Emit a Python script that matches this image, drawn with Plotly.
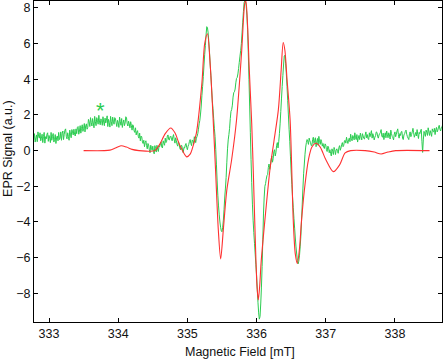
import numpy as np
import plotly.graph_objects as go

# Experimental EPR spectrum (green): samples on a 0.02 mT grid starting at 332.76 mT,
# plus the in-between samples (offset 0.01 mT)
field_start = 332.76
field_step = 0.02
exp_signal = [
    0.95, 0.62, 0.48, 0.88, 1.05, 0.70, 0.55, 0.92, 0.80, 0.42,
    0.66, 1.00, 0.85, 0.45, 0.58, 0.96, 0.62, 0.40, 0.82, 1.02,
    0.70, 0.58, 1.10, 0.92, 1.22, 0.66, 0.80, 1.15, 0.72, 1.05,
    1.20, 0.82, 0.95, 1.35, 1.10, 0.98, 1.45, 1.25, 1.05, 1.50,
    1.30, 1.62, 1.85, 1.38, 1.55, 1.92, 1.40, 1.70, 1.98, 1.45,
    1.68, 1.90, 1.40, 1.55, 1.95, 1.75, 1.32, 1.62, 1.88, 1.48,
    1.80, 1.35, 1.58, 1.88, 1.42, 1.30, 1.72, 1.55, 1.85, 1.38,
    1.50, 1.62, 1.15, 1.38, 1.02, 0.88, 1.12, 0.70, 0.55, 0.78,
    0.40, 0.22, 0.55, 0.10, 0.32, -0.12, 0.18, 0.25, -0.18, 0.12,
    0.30, -0.05, 0.22, 0.48, 0.15, 0.40, 0.70, 0.52, 0.88, 0.60,
    0.82, 0.55, 0.90, 0.42, 0.58, 0.25, 0.40, 0.05, 0.28, -0.12,
    0.15, 0.40, 0.05, 0.35, 0.62, 0.28, 0.55, 0.78, 0.45, 0.80,
    1.20, 1.70, 2.50, 3.60, 4.80, 5.90, 6.95, 6.60, 5.50, 4.20,
    2.80, 1.80, 0.80, -0.80, -2.50, -3.60, -4.30, -4.55, -3.90, -2.60,
    -1.50, 0.10, 0.90, 1.80, 2.30, 3.00, 3.30, 3.80, 4.10, 4.60,
    5.30, 6.00, 7.20, 8.30, 8.35, 7.60, 5.50, 2.50, -0.50, -3.00,
    -4.60, -5.80, -7.00, -8.50, -9.45, -8.60, -6.50, -3.50, -2.00, -1.60,
    -1.35, -0.75, -0.85, -0.30, -0.45, 0.05, -0.10, 0.45, 0.50, 1.50,
    2.90, 4.20, 5.30, 4.90, 3.60, 2.00, 0.50, -1.20, -2.60, -3.80,
    -4.90, -5.80, -6.35, -5.90, -4.80, -3.00, -1.30, -0.20, 0.45, 0.50,
    0.70, 0.45, 0.30, 0.75, 0.58, 0.22, 0.68, 0.80, 0.35, 0.50,
    0.40, 0.12, 0.32, -0.05, 0.20, 0.05, -0.30, -0.05, 0.18, -0.22,
    0.10, -0.15, 0.28, 0.15, 0.45, 0.30, 0.58, 0.75, 0.40, 0.70,
    0.92, 0.55, 0.78, 1.00, 0.62, 0.48, 0.85, 0.98, 0.60, 0.82,
    0.65, 1.05, 0.90, 0.62, 0.78, 1.12, 0.95, 0.60, 0.85, 1.02,
    0.70, 0.95, 1.18, 0.75, 0.62, 1.00, 1.10, 0.72, 0.88, 1.15,
    0.80, 0.60, 1.05, 0.92, 1.22, 0.70, 0.85, 1.08, 0.62, 0.95,
    1.15, 0.78, 0.62, 1.05, 0.90, 1.25, 0.75, 1.02, 1.18, 0.68,
    0.95, 1.20, -0.10, 1.08, 0.80, 1.02, 1.28, 0.85, 0.96, 1.22,
    1.05, 0.90, 1.30, 1.15, 1.42, 1.10, 1.35, 1.50,
]
exp_signal_mid = [
    0.58, 0.95, 0.72, 0.50, 0.82, 1.00, 0.68, 0.45, 1.02, 0.78,
    0.92, 0.52, 0.70, 1.02, 0.80, 0.48, 0.90, 0.75, 0.55, 0.62,
    1.05, 0.95, 0.62, 1.15, 0.80, 1.00, 0.58, 0.92, 1.18, 0.88,
    0.90, 1.22, 1.30, 0.92, 1.40, 1.25, 1.08, 1.52, 1.38, 1.20,
    1.75, 1.35, 1.58, 1.80, 1.28, 1.62, 1.85, 1.48, 1.60, 1.78,
    1.42, 1.60, 1.82, 1.70, 1.35, 1.58, 1.92, 1.40, 1.65, 1.85,
    1.55, 1.70, 1.30, 1.62, 1.80, 1.55, 1.40, 1.90, 1.50, 1.65,
    1.28, 1.42, 1.45, 1.10, 1.28, 1.05, 0.80, 0.98, 0.82, 0.48,
    0.58, 0.45, 0.28, 0.40, 0.05, 0.30, 0.02, -0.05, 0.28, -0.08,
    0.08, 0.25, 0.38, 0.20, 0.55, 0.30, 0.45, 0.82, 0.62, 0.78,
    0.65, 0.78, 0.60, 0.72, 0.35, 0.50, 0.15, 0.30, 0.00, 0.18,
    0.32, 0.18, 0.25, 0.52, 0.40, 0.60, 0.38, 0.62, 0.70, 0.95,
    1.50, 2.05, 3.10, 4.15, 5.40, 6.50, 6.90, 6.10, 4.80, 3.50,
    2.35, 1.25, 0.05, -1.70, -3.10, -4.00, -4.50, -4.30, -3.30, -2.10,
    -0.65, 0.60, 1.25, 2.20, 2.55, 3.25, 3.45, 4.05, 4.30, 4.95,
    5.60, 6.60, 7.80, 8.40, 8.10, 6.80, 4.00, 1.00, -1.80, -3.90,
    -5.20, -6.40, -7.80, -9.10, -9.30, -7.70, -5.00, -2.60, -1.85, -1.40,
    -0.95, -1.05, -0.50, -0.65, -0.05, -0.30, 0.30, 0.15, 0.95, 2.20,
    3.60, 4.80, 5.35, 4.30, 2.80, 1.20, -0.35, -1.90, -3.20, -4.35,
    -5.40, -6.15, -6.20, -5.40, -3.90, -2.10, -0.75, 0.20, 0.62, 0.35,
    0.55, 0.28, 0.62, 0.40, 0.72, 0.48, 0.30, 0.55, 0.62, 0.25,
    0.20, 0.38, 0.05, 0.25, -0.12, -0.15, 0.10, -0.22, 0.05, 0.02,
    -0.05, 0.18, 0.02, 0.35, 0.22, 0.55, 0.42, 0.55, 0.62, 0.50,
    0.68, 0.85, 0.60, 0.72, 0.90, 0.70, 0.62, 0.78, 0.95, 0.68,
    0.88, 0.72, 0.68, 1.00, 0.95, 0.70, 0.82, 0.75, 1.05, 0.78,
    0.88, 1.02, 0.82, 0.98, 0.85, 0.72, 0.92, 1.00, 0.65, 0.95,
    0.72, 0.92, 0.78, 1.10, 0.90, 0.95, 1.05, 0.70, 0.88, 1.08,
    0.92, 0.70, 0.95, 0.78, 1.05, 1.00, 0.88, 0.82, 0.90, 1.02,
    1.10, 0.50, 0.60, 0.95, 1.15, 0.85, 1.05, 1.12, 0.80, 1.08,
    1.25, 1.18, 1.05, 1.32, 1.20, 1.28, 1.45, 1.30,
]
grid_field = field_start + field_step * np.arange(len(exp_signal))
mid_field = grid_field + field_step / 2
exp_field = np.column_stack([grid_field, mid_field]).ravel()
exp_all = np.column_stack([exp_signal, exp_signal_mid]).ravel()

# Simulated spectrum (red)
sim_field = [333.50, 333.80, 333.88, 333.96, 334.04, 334.12, 334.20, 334.30, 334.40, 334.50,
             334.53, 334.60, 334.68, 334.76, 334.82, 334.89, 334.99, 335.04, 335.07, 335.13,
             335.21, 335.25, 335.29, 335.33, 335.366, 335.406, 335.447, 335.481, 335.52, 335.57,
             335.64, 335.71, 335.785, 335.83, 335.845, 335.87, 335.895, 335.93, 335.955, 335.98,
             336.005, 336.025, 336.045, 336.065, 336.12, 336.195, 336.25, 336.315, 336.355, 336.385,
             336.41, 336.44, 336.485, 336.53, 336.56, 336.59, 336.62, 336.65, 336.70, 336.75,
             336.80, 336.86, 336.92, 337.00, 337.11, 337.20, 337.28, 337.36, 337.57, 337.70,
             337.80, 337.90, 338.01, 338.50]
sim_signal = [0.0, 0.0, 0.03, 0.15, 0.27, 0.20, 0.07, 0.0, -0.03, -0.02,
              0.0, 0.35, 0.95, 1.27, 1.0, 0.3, -0.35, -0.2, 0.1, 0.98,
              3.8, 6.0, 6.55, 4.8, 2.27, -1.0, -4.45, -6.07, -4.4, -2.2,
              -0.5, 1.7, 5.6, 8.27, 8.4, 7.0, 4.5, 1.5, -1.5, -4.8,
              -7.5, -8.37, -7.6, -6.3, -3.9, -1.0, 0.5, 2.3, 4.5, 6.06,
              5.6, 4.0, 1.7, -3.9, -5.8, -6.32, -5.5, -3.9, -1.9, -0.5,
              0.2, 0.41, 0.2, -0.5, -1.18, -0.8, -0.13, 0.0, 0.0, -0.08,
              -0.19, -0.08, 0.0, 0.0]

x_ticks = [333, 334, 335, 336, 337, 338]
y_ticks = [-8, -6, -4, -2, 0, 2, 4, 6, 8]

GREEN = "#2bcc50"
RED = "#ff3030"
FONT = "Liberation Sans, Arial, Helvetica, sans-serif"

fig = go.Figure()
fig.add_trace(go.Scatter(x=exp_field, y=exp_all, mode="lines",
                         line=dict(color=GREEN, width=1.0, simplify=False), hoverinfo="skip"))
fig.add_trace(go.Scatter(x=sim_field, y=sim_signal, mode="lines",
                         line=dict(color=RED, width=1.1, shape="spline", smoothing=0.8),
                         hoverinfo="skip"))

axis_common = dict(showgrid=False, zeroline=False, showline=True, linecolor="black",
                   linewidth=1, mirror="ticks", ticks="inside", ticklen=4,
                   tickcolor="black", tickfont=dict(family=FONT, size=12.5, color="#111"))

fig.update_xaxes(range=[332.783, 338.68], tickvals=x_ticks,
                 ticktext=[str(t) for t in x_ticks], **axis_common)
fig.update_yaxes(range=[-9.61, 8.39], tickvals=y_ticks,
                 ticktext=[str(t).replace("-", "\u2212") for t in y_ticks], **axis_common)

fig.add_annotation(x=333.75, y=2.25, xref="x", yref="y", text="*", showarrow=False,
                   font=dict(family=FONT, size=22, color=GREEN))
fig.add_annotation(x=0.505, y=-0.092, xref="paper", yref="paper", text="Magnetic Field [mT]",
                   showarrow=False, xanchor="center", yanchor="middle",
                   font=dict(family=FONT, size=12.5, color="#111"))
fig.add_annotation(x=-0.064, y=0.542, xref="paper", yref="paper", text="EPR Signal (a.u.)",
                   showarrow=False, xanchor="center", yanchor="middle", textangle=-90,
                   font=dict(family=FONT, size=12.5, color="#111"))

fig.update_layout(width=443, height=360, margin=dict(l=34, r=1, t=1, b=38),
                  paper_bgcolor="white", plot_bgcolor="white", showlegend=False)

fig.write_html("out.html", config={"displayModeBar": False},
               post_script="document.body.style.margin='0px';")
